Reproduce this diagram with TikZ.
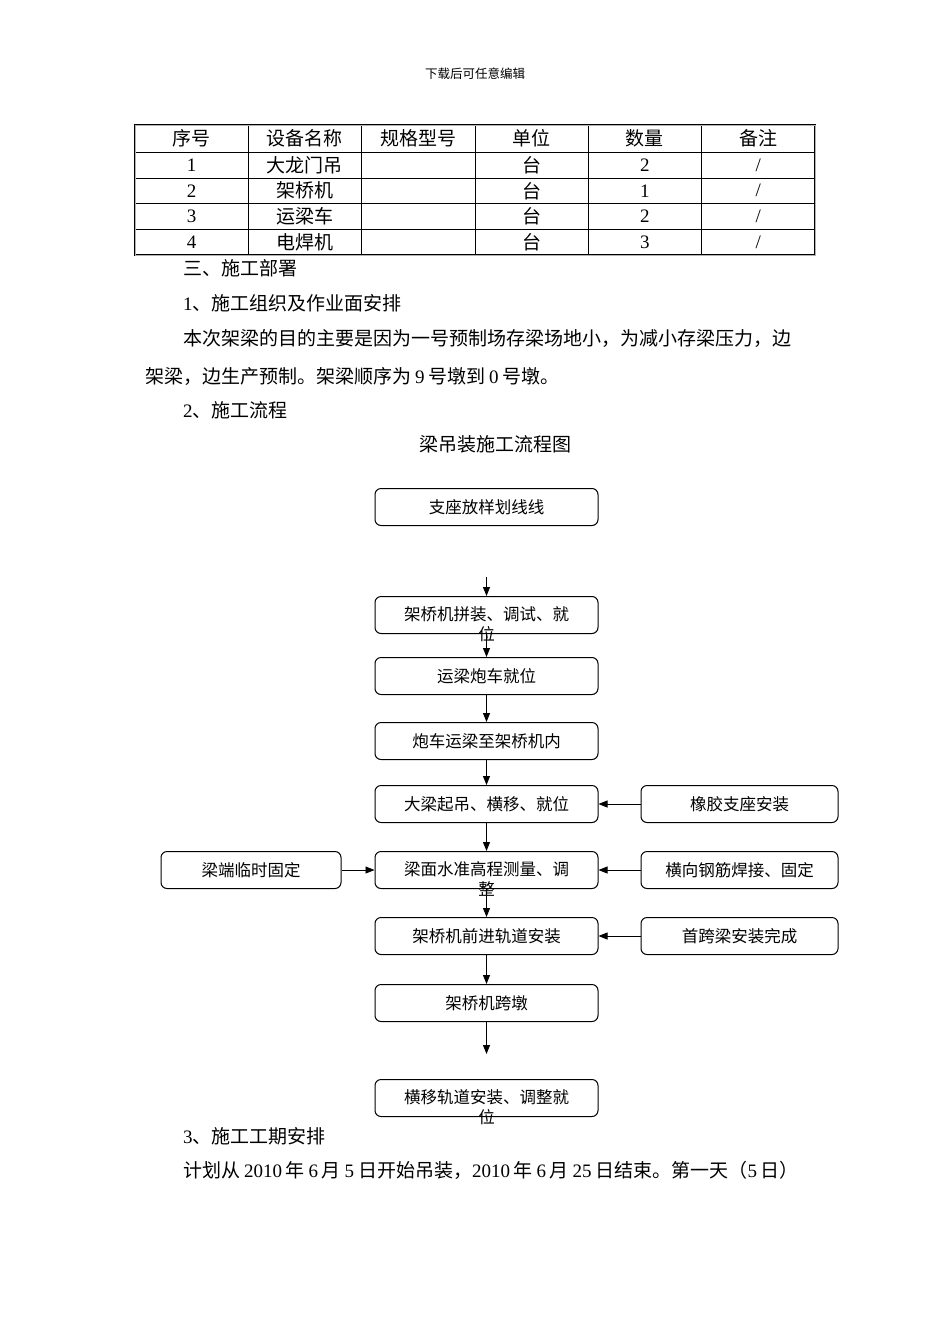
\documentclass[tikz,border=0pt]{standalone}
\usepackage{fontspec}
\setmainfont{Noto Sans CJK SC}
\newfontfamily\lat{Liberation Serif}
\usetikzlibrary{positioning, arrows.meta}

\newcommand{\nm}[1]{{\lat #1}}
\newcommand{\dg}[1]{\hspace{0.2em}{\lat #1}\hspace{0.2em}}
\newcommand{\slashmark}{{\lat /}}
\newcommand{\wrapbox}[2]{\raisebox{0pt}[0.9em][0.2em]{\begin{tabular}[t]{@{}c@{}}#1\\#2\end{tabular}}}

\begin{document}
\begin{tikzpicture}[x=1pt, y=-1pt,
    stepbox/.style={rectangle, rounded corners=6pt, draw, line width=1pt, minimum width=223pt, minimum height=37pt, inner sep=0pt, font=\fontsize{16.5}{20}\selectfont},
    sidebox/.style={stepbox, minimum width=197pt},
    flow/.style={-{Triangle[length=9pt, width=7pt]}, line width=0.8pt},
    body/.style={anchor=west, inner sep=0pt, font=\fontsize{19}{23}\selectfont},
    cell/.style={inner sep=0pt, font=\fontsize{19}{23}\selectfont},
    ]

   \useasboundingbox (0,0) rectangle (950,1344);

   % Page head and equipment table.
   \node[font=\fontsize{12.5}{15}\selectfont] (head) at (475,74) {下载后可任意编辑};
   \foreach \i in {1,...,5}
      \draw[line width=0.8pt] ({135+113.33*\i},125) -- ({135+113.33*\i},255);
   \foreach \j in {152,178,203.5,229}
      \draw[line width=0.8pt] (135,\j) -- (815,\j);
   \draw[line width=0.6pt, double=gray!60, double distance=0.9pt] (135,125) -- (815,125) -- (815,255) -- (135,255) -- cycle;
   \foreach \y/\a/\b/\c/\d/\e/\f [count=\r] in {
      138.5/序号/设备名称/规格型号/单位/数量/备注,
      165/\nm{1}/大龙门吊//台/\nm{2}/\slashmark,
      190.75/\nm{2}/架桥机//台/\nm{1}/\slashmark,
      216.25/\nm{3}/运梁车//台/\nm{2}/\slashmark,
      242/\nm{4}/电焊机//台/\nm{3}/\slashmark}
   {
      \foreach \t [count=\k] in {\a,\b,\c,\d,\e,\f}
         \node[cell] (c-\r-\k) at ({135+113.33*(\k-0.5)},\y) {\t};
   }

   % Running text.
   \node[body] (sec3) at (183,268) {三、施工部署};
   \node[body] (sub1) at (183,303) {\nm{1}、施工组织及作业面安排};
   \node[body] (par1) at (183,338) {本次架梁的目的主要是因为一号预制场存梁场地小，为减小存梁压力，边};
   \node[body] (par2) at (145,376) {架梁，边生产预制。架梁顺序为\dg{9}号墩到\dg{0}号墩。};
   \node[body] (sub2) at (183,410) {\nm{2}、施工流程};
   \node[body, anchor=center] (title) at (495,444) {梁吊装施工流程图};

   % Main flow.
   \node[stepbox] (setout) at (486.5,507) {支座放样划线线};
   \node[stepbox, below=70pt of setout] (assemble) {\wrapbox{架桥机拼装、调试、就}{位}};
   \node[stepbox, below=23pt of assemble] (trolley) {运梁炮车就位};
   \node[stepbox, below=27pt of trolley] (carry) {炮车运梁至架桥机内};
   \node[stepbox, below=25pt of carry] (lift) {大梁起吊、横移、就位};
   \node[stepbox, below=28pt of lift] (level) {\wrapbox{梁面水准高程测量、调}{整}};
   \node[stepbox, below=28pt of level] (track) {架桥机前进轨道安装};
   \node[stepbox, below=29pt of track] (cross) {架桥机跨墩};
   \node[stepbox, below=57pt of cross] (sidetrack) {\wrapbox{横移轨道安装、调整就}{位}};

   % Side inputs.
   \node[sidebox, right=42pt of lift] (bearing) {橡胶支座安装};
   \node[sidebox, right=42pt of level] (weld) {横向钢筋焊接、固定};
   \node[sidebox, right=42pt of track] (firstspan) {首跨梁安装完成};
   \node[stepbox, minimum width=180pt, left=33pt of level] (fix) {梁端临时固定};

   \coordinate[below=51pt of setout.south] (gapin);
   \coordinate[below=32pt of cross.south] (gapout);

   \draw[flow] (gapin) -- (assemble);
   \draw[flow] (assemble) -- (trolley);
   \draw[flow] (trolley) -- (carry);
   \draw[flow] (carry) -- (lift);
   \draw[flow] (lift) -- (level);
   \draw[flow] (level) -- (track);
   \draw[flow] (track) -- (cross);
   \draw[flow] (cross) -- (gapout);

   \draw[flow] (bearing) -- (lift);
   \draw[flow] (fix) -- (level);
   \draw[flow] (weld) -- (level);
   \draw[flow] (firstspan) -- (track);

   % Schedule.
   \node[body] (sec4) at (183,1136) {\nm{3}、施工工期安排};
   \node[body] (plan) at (183,1170) {计划从\dg{2010}年\dg{6}月\dg{5}日开始吊装，\nm{2010}\hspace{0.2em}年\dg{6}月\dg{25}日结束。第一天（\nm{5}\hspace{0.2em}日）};

\end{tikzpicture}
\end{document}
